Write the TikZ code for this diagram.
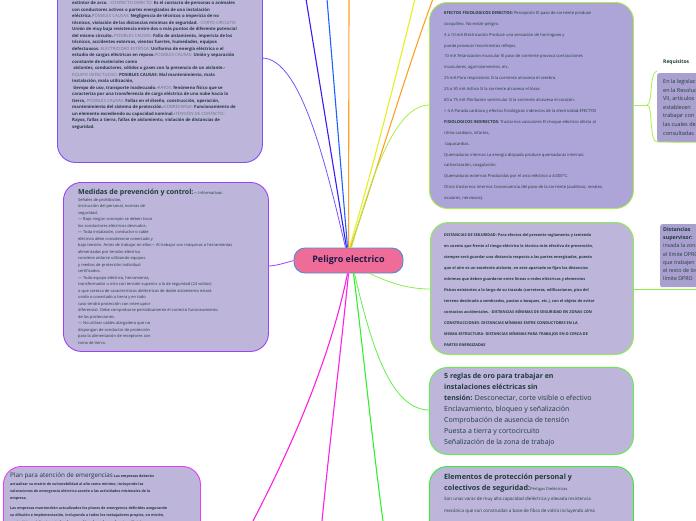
\documentclass[tikz,border=0pt]{standalone}
\usepackage{fontspec}
\setmainfont{Open Sans}
\definecolor{txt}{HTML}{1F3B3B}
\definecolor{lblc}{HTML}{627274}
\definecolor{boxfill}{HTML}{BDB6DA}
\definecolor{boxfillB}{HTML}{ADA4D7}
\definecolor{childfill}{HTML}{A9A0CF}
\definecolor{pinkc}{HTML}{F06C98}
\definecolor{blueb}{HTML}{4A8FD0}
\definecolor{ctext}{HTML}{1B1B48}
\definecolor{violA}{HTML}{7B52F2}
\definecolor{violB}{HTML}{A040F8}
\definecolor{magA}{HTML}{E040F0}
\definecolor{magB}{HTML}{FF20E0}
\definecolor{blueD}{HTML}{3A1CF0}
\definecolor{blueM}{HTML}{2060FF}
\definecolor{orangeC}{HTML}{FFA020}
\definecolor{yellowC}{HTML}{E4F020}
\definecolor{greenA}{HTML}{A8EF48}
\definecolor{greenB}{HTML}{88F048}
\definecolor{greenC}{HTML}{60F048}
\definecolor{greenD}{HTML}{30F030}
\newcommand{\lbl}[1]{{\mdseries\color{lblc}#1}}
\tikzset{
  boxshape/.style={draw, line width=0.9pt, rounded corners=18pt, anchor=north west, inner sep=0pt, fill=boxfill},
  textblk/.style={anchor=north west, inner sep=0pt, align=left, text=txt},
  childbox/.style={anchor=north west, inner sep=0pt, fill=childfill, rounded corners=2pt},
  conn/.style={line width=1.1pt},
  thinconn/.style={line width=0.8pt}
}
\begin{document}
\begin{tikzpicture}[x=1pt,y=-1pt]
\useasboundingbox (0,0) rectangle (696,520);
\clip (0,0) rectangle (696,520);

% ---------- connectors (behind) ----------
\node[draw=blueb, line width=0.9pt, fill=pinkc, rounded corners=11pt, minimum width=109pt, minimum height=25pt, inner sep=0pt] (c) at (348.5,260.5) {};
\coordinate (e1) at (306,-1);
\coordinate (e2) at (327,-1);
\coordinate (e3) at (349,-1);
\coordinate (e4) at (415,-1);
\coordinate (e5) at (433,-1);
\coordinate (e6) at (253,521);
\coordinate (e7) at (322,521);
\coordinate (e8) at (383,521);
\coordinate (b1in) at (262,58);
\coordinate (b2in) at (268,266);
\coordinate (b4in) at (429.5,105);
\coordinate (b5in) at (430,289);
\coordinate (b6in) at (429.5,410);
\coordinate (b4out) at (633,105);
\coordinate (b5out) at (633,289);

\draw[conn, blueD] ([xshift=-2pt]c.north) -- (e1);
\draw[conn, blueM] ([xshift=-1pt]c.north) -- (e2);
\draw[conn, orangeC] (c.north) -- (e3);
\draw[conn, yellowC] ([xshift=1pt]c.north) .. controls (375,160) and (400,60) .. (e4);
\draw[conn, orangeC] ([xshift=2pt]c.north) .. controls (380,160) and (410,60) .. (e5);
\draw[thinconn, violA] ([xshift=-3pt]c.north) .. controls (325,160) and (300,58) .. (b1in);
\draw[thinconn, violB] (c.west) .. controls (285,263) and (275,266) .. (b2in);
\draw[thinconn, greenA] ([xshift=3pt]c.north) .. controls (372,175) and (395,105) .. (b4in);
\draw[thinconn, greenB] ([xshift=21pt]c.south) .. controls (392,284) and (410,289) .. (b5in);
\draw[thinconn, greenC] ([xshift=6pt]c.south) .. controls (372,350) and (392,410) .. (b6in);
\draw[conn, greenD] ([xshift=5pt]c.south) .. controls (362,340) and (372,440) .. (e8);
\draw[conn, magB] ([xshift=-1pt]c.south) .. controls (330,360) and (290,450) .. (e6);
\draw[conn, magB] (c.south) .. controls (342,340) and (330,440) .. (e7);

% ---------- central node text ----------
\node[text=ctext, font=\fontsize{9}{11}\selectfont\bfseries, inner sep=0pt] (ct) at (c.center) {Peligro electrico};

% ---------- Box 1 ----------
\node[boxshape, draw=violA, minimum width=205pt, minimum height=182pt] (b1) at (57,-20) {};
\node[textblk, font=\fontsize{4.3}{6.5}\selectfont\bfseries] (t1) at (72,1.2) {%
extintor de arco.  \lbl{-CONTACTO DIRECTO:} Es el contacto de personas o animales\\
con conductores activos o partes energizadas de una instalación\\
eléctrica.\lbl{POSIBLES CAUSAS:} Negligencia de técnicos o impericia de no\\
técnicos,  violación de las distancias mínimas de seguridad. \lbl{-CORTO CIRCUITO:}\\
Unión de muy baja resistencia entre dos o más puntos de diferente potencial\\
del mismo circuito.\lbl{-POSIBLES CAUSAS:} Falla de aislamiento, impericia de los\\
técnicos,  accidentes externos,  vientos fuertes, humedades,  equipos\\
defectuosos.\lbl{-ELECTRICIDAD ESTÁTICA:} Uniforma de energía eléctrica o el\\
estudio de cargas eléctricas en reposo.\lbl{POSIBLES CAUSAS:} Unión y separación\\
constante de materiales como\\
\ aislantes, conductores, sólidos o gases con la presencia de un aislante.-\\
\lbl{EQUIPO DEFECTUOSO:} POSIBLES CAUSAS: Mal mantenimiento, mala\\
instalación,  mala utilización,\\
\ tiempo de uso,  transporte inadecuado.-\lbl{RAYOS:} fenómeno físico que se\\
caracteriza por una transferencia de carga eléctrica de una nube hacia la\\
tierra, \lbl{POSIBLES CAUSAS:} Fallas en el diseño, construcción,  operación,\\
mantenimiento del sistema de protección.-\lbl{SOBRECARGA:} Funcionamiento de\\
un elemento excediendo su capacidad nominal.-\lbl{TENSIÓN DE CONTACTO:}\\
Rayos, fallas a tierra, fallas de aislamiento,  violación de distancias de\\
seguridad.};

% ---------- Box 2 ----------
\node[boxshape, draw=violB, minimum width=205pt, minimum height=169pt] (b2) at (63,182) {};
\node[anchor=base west, inner sep=0pt, text=txt] (t2a) at (78,194.5) {\fontsize{7}{8}\selectfont\bfseries Medidas de prevención y control:\fontsize{4}{5}\selectfont\mdseries — Informativas:};
\node[textblk, font=\fontsize{4}{6.5}\selectfont] (t2b) at (78,198) {%
Señales de prohibición,\\
instrucción del personal, normas de\\
seguridad.\\
— Bajo ningún concepto se deben tocar\\
los conductores eléctricos desnudos.\\
— Toda instalación, conductor o cable\\
eléctrico debe considerarse conectado y\\
bajo tensión. Antes de trabajar en ellos— Al trabajar con máquinas o herramientas\\
alimentadas por tensión eléctrica\\
conviene aislarse utilizando equipos\\
y  medios de protección individual\\
certificados.\\
— Todo equipo eléctrico, herramienta,\\
transformador u otro con tensión superior a la de seguridad (24 voltios)\\
o que carezca de características dieléctricas de doble aislamiento estará\\
unido o conectado a tierra y en todo\\
caso tendrá protección con interruptor\\
diferencial. Debe comprobarse periódicamente el correcto funcionamiento\\
de las protecciones.\\
— No utilizar cables alargadera que no\\
dispongan de conductor de protección\\
para la alimentación de receptores con\\
toma de tierra.};

% ---------- Box 3 ----------
\node[boxshape, draw=magA, minimum width=197pt, minimum height=90pt] (b3) at (3,466) {};
\node[anchor=base west, inner sep=0pt, text=txt] (t3a) at (10,477.5) {\fontsize{6.3}{7}\selectfont Plan para  atención de emergencias\fontsize{3.6}{5}\selectfont\bfseries\ Las empresas deberán};
\node[textblk, font=\fontsize{3.6}{7}\selectfont\bfseries] (t3b) at (10,482.3) {%
actualizar su matriz de vulnerabilidad al año como mínimo, incluyendo las\\
valoraciones de emergencia eléctrica acorde a las actividades misionales de la\\
empresa.\\[3pt]
Las empresas mantendrán actualizados los planes de emergencia definidos asegurando\\
su difusión e implementación, incluyendo a todos los trabajadores propios, en misión,\\
contratistas, visitantes y todo el personal involucrado en el sector eléctrico.};

% ---------- Box 4 ----------
\node[boxshape, draw=greenA, fill=boxfillB, minimum width=204pt, minimum height=206pt] (b4) at (429,2) {};
\node[textblk, font=\fontsize{4.1}{10.9}\selectfont] (t4) at (444,11) {%
\textbf{EFECTOS  FISIOLOGICOS DIRECTOS:} Percepción El paso de corriente produce\\
cosquilleo. No existe peligro.\\
3 a 10 mA Electrización Produce una sensación de hormigueo y\\
puede provocar movimientos reflejos.\\
10 mA Tetanización muscular El paso de corriente provoca contracciones\\
musculares, agarrotamientos, etc.\\
25 mA Paro respiratorio Si la corriente atraviesa el cerebro.\\
25 a 30 mA Asfixia Si la corriente atraviesa el tórax\\
60 a 75 mA Fibrilación ventricular Si la corriente atraviesa el corazón.\\
> 4 A Parada cardiaca y  efectos fisiológicos indirectos de la electricidad.EFECTOS\\
\textbf{FISIOLOGICOS INDIRECTOS:} Trastornos vasculares El choque eléctrico afecta al\\
ritmo cardiaco, infartos,\\
\ taquicardias.\\
Quemaduras internas La energía disipada produce quemaduras internas:\\
carbonización, coagulación.\\
Quemaduras externas Producidas por el arco eléctrico a 4.000°C.\\
Otros trastornos internos Consecuencia del paso de la corriente (auditivos, renales,\\
oculares, nerviosos).};

% ---------- Requisitos (child of box 4) ----------
\node[childbox, minimum width=50pt, minimum height=69pt] (rq) at (657,73) {};
\node[anchor=base west, inner sep=0pt, text=txt, font=\fontsize{5}{6}\selectfont\bfseries] (rqt) at (663,63) {Requisitos};
\node[textblk, font=\fontsize{5.5}{8.6}\selectfont] (rqb) at (663,79) {%
En la legislación\\
en la Resolución\\
VII, artículos\\
establecen\\
trabajar con\\
las cuales deben\\
consultadas};
\coordinate (rqm) at (647,105);
\draw[thinconn, greenA] (b4out) -- (rqm);
\draw[thinconn, greenA] (rqm) .. controls (653,105) and (649,72) .. (657,71);
\draw[thinconn, greenA] (rqm) .. controls (653,105) and (649,142) .. (657,142) -- (rq.south east) -- ++(10,0);

% ---------- Box 5 ----------
\node[boxshape, draw=greenB, minimum width=203pt, minimum height=132pt] (b5) at (430,222) {};
\node[textblk, font=\fontsize{3.85}{11}\selectfont\bfseries] (t5) at (444,233.2) {%
DISTANCIAS DE SEGURIDAD: Para efectos del presente reglamento y teniendo\\
en cuenta que frente al riesgo eléctrico la técnica más efectiva de prevención,\\
siempre será guardar una distancia respecto a las partes energizadas,  puesto\\
que el aire es un excelente aislante, en este apartado se fijan las distancias\\
mínimas que deben guardarse entre líneas o redes eléctricas y elementos\\
físicos existentes a lo largo de su trazado (carreteras, edificaciones, piso del\\
terreno destinado a sembrados,  pastos o bosques, etc.),  con el objeto de evitar\\
contactos accidentales. -DISTANCIAS MÍNIMAS DE SEGURIDAD EN ZONAS CON\\
CONSTRUCCIONES- DISTANCIAS MÍNIMAS ENTRE CONDUCTORES EN LA\\
MISMA ESTRUCTURA- DISTANCIAS MÍNIMAS PARA TRABAJOS EN O CERCA DE\\
PARTES ENERGIZADAS};

% ---------- Distancias (child of box 5) ----------
\node[childbox, minimum width=50pt, minimum height=63pt] (ds) at (660,224) {};
\node[textblk, font=\fontsize{5.3}{8.1}\selectfont] (dst) at (663,227.5) {%
\textbf{Distancias}\\
\textbf{supervisor:}\\
invada la zona\\
el límite DPRO\\
que trabajen\\
el resto de los\\
límite DPRO};
\draw[thinconn, greenB] (b5out) -- ++(64,0);

% ---------- Box 6 ----------
\node[boxshape, draw=greenC, minimum width=204pt, minimum height=87pt] (b6) at (429,367) {};
\node[textblk, font=\fontsize{7}{11}\selectfont] (t6) at (444,372.8) {%
\textbf{5 reglas de oro para trabajar en}\\
\textbf{instalaciones eléctricas sin}\\
\textbf{tensión:} Desconectar, corte visible o efectivo\\
Enclavamiento, bloqueo y señalización\\
Comprobación de ausencia de tensión\\
Puesta a tierra y cortocircuito\\
Señalización de la zona de trabajo};

% ---------- Box 7 ----------
\node[boxshape, draw=greenD, minimum width=204pt, minimum height=90pt] (b7) at (429,466) {};
\node[anchor=base west, inner sep=0pt, text=txt, font=\fontsize{7.2}{8}\selectfont\bfseries] (t7a) at (444,479) {Elementos de protección personal y};
\node[anchor=base west, inner sep=0pt, text=txt] (t7b) at (444,490) {\fontsize{7.2}{8}\selectfont\bfseries colectivos de seguridad:\fontsize{4}{5}\selectfont\mdseries Pértigas Dieléctricas};
\node[textblk, font=\fontsize{4.5}{12}\selectfont] (t7c) at (444,497) {%
Son unas varas de muy alta capacidad dieléctrica y elevada resistencia\\
mecánica que son construidas a base de fibra de vidrio incluyendo alma};
\end{tikzpicture}
\end{document}
